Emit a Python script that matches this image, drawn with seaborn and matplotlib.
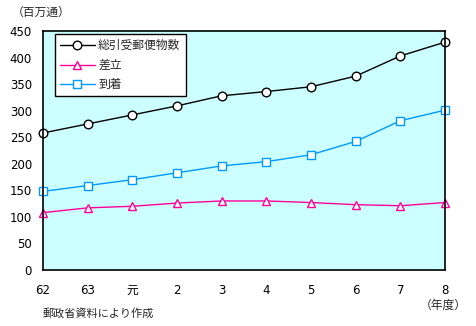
import matplotlib
matplotlib.use("Agg")
import matplotlib.pyplot as plt
import seaborn as sns
import pandas as pd

years = ["62", "63", "元", "2", "3", "4", "5", "6", "7", "8"]
total = [258, 275, 292, 309, 328, 336, 345, 365, 403, 429]
dispatched = [108, 117, 120, 126, 130, 130, 127, 123, 121, 127]
arrived = [148, 159, 170, 183, 196, 204, 217, 242, 281, 301]

series_names = ["総引受郵便物数", "差立", "到着"]
series_values = [total, dispatched, arrived]
colors = ["#000000", "#FF0099", "#0099FF"]
markers = ["o", "^", "s"]

rows = []
for name, vals in zip(series_names, series_values):
    for i, v in enumerate(vals):
        rows.append({"pos": i, "value": v, "series": name})
df = pd.DataFrame(rows)

sns.set_theme(style="white")
plt.rcParams["font.family"] = ["Noto Sans CJK JP", "DejaVu Sans"]

fig = plt.figure(figsize=(4.76, 3.26), dpi=100)
ax = fig.add_axes([43 / 476, 1 - 270 / 326, (445 - 43) / 476, (270 - 31) / 326])
ax.set_facecolor("#CCFFFF")

sns.lineplot(
    data=df, x="pos", y="value", hue="series", style="series",
    hue_order=series_names, style_order=series_names,
    palette=colors, markers=markers, dashes=False,
    markersize=6.2, markerfacecolor="white", markeredgewidth=1.0,
    linewidth=1.0, ax=ax,
)
for line, c in zip(ax.lines, colors):
    line.set_markeredgecolor(c)
    line.set_clip_on(False)

ax.set_xlim(0, 9)
ax.set_ylim(0, 450)
ax.set_xticks(range(len(years)))
ax.set_xticklabels(years)
ax.set_yticks(range(0, 451, 50))
ax.set_xlabel("")
ax.set_ylabel("")
ax.tick_params(axis="both", direction="in", length=4, width=1, colors="black",
               labelsize=8.5, labelcolor="black")
ax.tick_params(axis="x", pad=10)
ax.tick_params(axis="y", pad=8)
for lbl in ax.get_xticklabels() + ax.get_yticklabels():
    lbl.set_family(["DejaVu Sans", "Noto Sans CJK JP"])
for sp in ax.spines.values():
    sp.set_color("black")
    sp.set_linewidth(1.2)

handles, labels = ax.get_legend_handles_labels()
for h, c in zip(handles, colors):
    h.set_markerfacecolor("white")
    h.set_markeredgecolor(c)
leg = ax.legend(handles, labels, loc="upper left", bbox_to_anchor=(0.03, 0.988),
                borderaxespad=0, frameon=True, fancybox=False, framealpha=1,
                edgecolor="black", fontsize=8.5, handlelength=2.9,
                handletextpad=0.3, borderpad=0.45, labelspacing=0.55)
leg.get_frame().set_linewidth(1.0)

fig.text(12 / 476, 1 - 12 / 326, "（百万通）", fontsize=8.5, va="center", ha="left")
fig.text(467 / 476, 1 - 305 / 326, "（年度）", fontsize=8.5, va="center", ha="right")
fig.text(43 / 476, 1 - 313 / 326, "郵政省資料により作成", fontsize=8, va="center", ha="left")

fig.savefig("out.png", dpi=100, facecolor="white")
